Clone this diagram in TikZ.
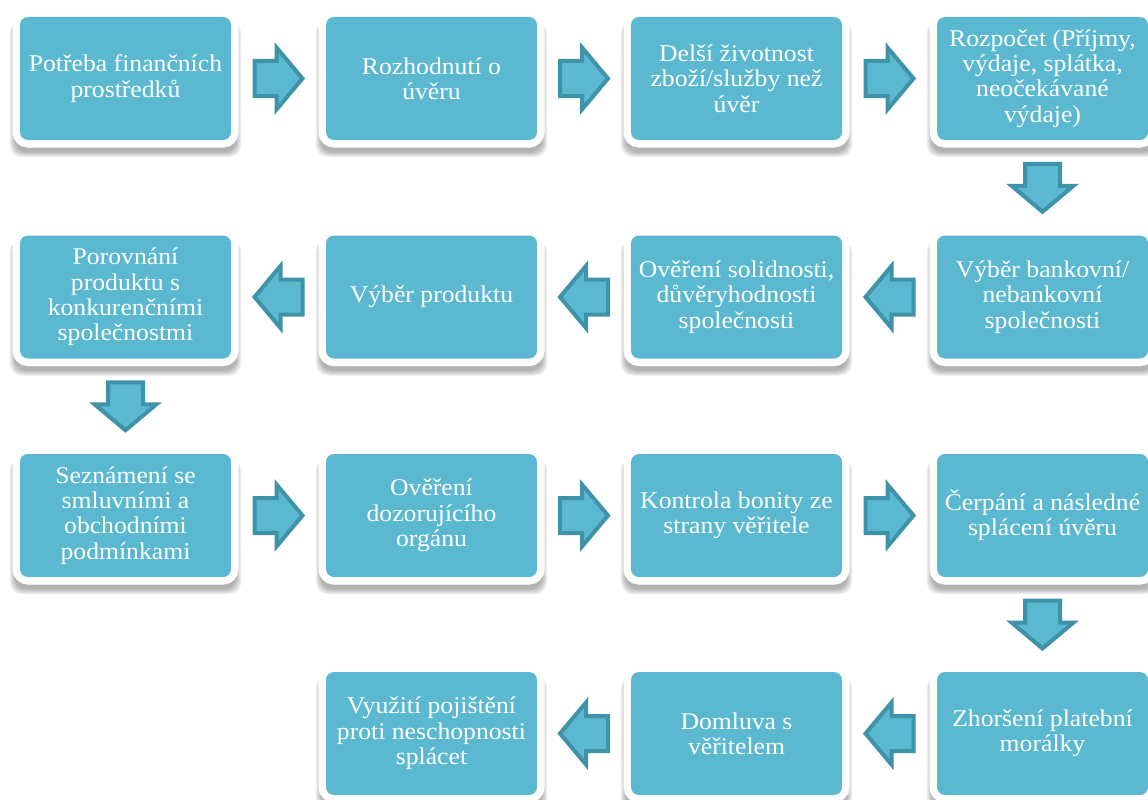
\documentclass[tikz,border=0pt]{standalone}
\usepackage{fontspec}
\setmainfont{Liberation Serif}[FakeStretch=1.07]
\usetikzlibrary{calc,backgrounds}
\newlength\px
\setlength\px{0.75pt}
\definecolor{boxblue}{HTML}{5AB8D1}
\definecolor{arrowedge}{HTML}{3F93A8}
\tikzset{
  stepbox/.style={rectangle, rounded corners=8\px, minimum width=211\px,
    minimum height=123\px, inner sep=0pt, fill=boxblue, text=white,
    align=center, font=\fontsize{18pt}{19pt}\selectfont,
    preaction={draw=white, line width=15\px}},
  pics/flowarrow/.style={code={
    \draw[arrowedge, fill=boxblue, line width=4\px, line join=miter]
      (-24,-17.5) -- (-2,-17.5) -- (-2,-31) -- (24,0) -- (-2,31)
      -- (-2,17.5) -- (-24,17.5) -- cycle;}},
  softshadow/.style={black, opacity=0.055, rounded corners=12\px}
}
\begin{document}
\begin{tikzpicture}[x=0.75pt, y=-0.75pt]
  \useasboundingbox (0,0) rectangle (1148,799);

  % row 1 (left to right)
  \node[stepbox] (b1)  at (125.5,78.5) {Potřeba finančních\\prostředků};
  \node[stepbox] (b2)  at (431.5,78.5) {Rozhodnutí o\\úvěru};
  \node[stepbox] (b3)  at (736.5,78.5) {Delší životnost\\zboží/služby než\\úvěr};
  \node[stepbox] (b4)  at (1042.5,78.5) {Rozpočet (Příjmy,\\výdaje, splátka,\\neočekávané\\výdaje)};
  % row 2 (right to left)
  \node[stepbox] (b5)  at (1042.5,297) {Výběr bankovní/\\nebankovní\\společnosti};
  \node[stepbox] (b6)  at (736.5,297) {Ověření solidnosti,\\důvěryhodnosti\\společnosti};
  \node[stepbox] (b7)  at (431.5,297) {Výběr produktu};
  \node[stepbox] (b8)  at (125.5,297) {Porovnání\\produktu s\\konkurenčními\\společnostmi};
  % row 3 (left to right)
  \node[stepbox] (b9)  at (125.5,515.5) {Seznámení se\\smluvními a\\obchodními\\podmínkami};
  \node[stepbox] (b10) at (431.5,515.5) {Ověření\\dozorujícího\\orgánu};
  \node[stepbox] (b11) at (736.5,515.5) {Kontrola bonity ze\\strany věřitele};
  \node[stepbox] (b12) at (1042.5,515.5) {Čerpání a následné\\splácení úvěru};
  % row 4 (right to left)
  \node[stepbox] (b13) at (1042.5,733.5) {Zhoršení platební\\morálky};
  \node[stepbox] (b14) at (736.5,733.5) {Domluva s\\věřitelem};
  \node[stepbox] (b15) at (431.5,733.5) {Využití pojištění\\proti neschopnosti\\splácet};

  % soft drop shadows behind the boxes
  \begin{scope}[on background layer]
    \fill[white] (0,0) rectangle (1148,799);
    \foreach \n in {b1,b2,b3,b4,b5,b6,b7,b8,b9,b10,b11,b12,b13,b14,b15}{
      \foreach \k in {0,...,5}{
        \fill[softshadow] ($(\n.north west)+({-5-\k},4)$)
          rectangle ($(\n.south east)+({5+\k},{12+\k})$);
      }
    }
  \end{scope}

  % block arrows between consecutive steps
  \pic at ($(b1.east)!0.5!(b2.west)$) {flowarrow};
  \pic at ($(b2.east)!0.5!(b3.west)$) {flowarrow};
  \pic at ($(b3.east)!0.5!(b4.west)$) {flowarrow};
  \pic[rotate=-90] at ($(b4.south)!0.5!(b5.north)$) {flowarrow};
  \pic[rotate=180] at ($(b5.west)!0.5!(b6.east)$) {flowarrow};
  \pic[rotate=180] at ($(b6.west)!0.5!(b7.east)$) {flowarrow};
  \pic[rotate=180] at ($(b7.west)!0.5!(b8.east)$) {flowarrow};
  \pic[rotate=-90] at ($(b8.south)!0.5!(b9.north)$) {flowarrow};
  \pic at ($(b9.east)!0.5!(b10.west)$) {flowarrow};
  \pic at ($(b10.east)!0.5!(b11.west)$) {flowarrow};
  \pic at ($(b11.east)!0.5!(b12.west)$) {flowarrow};
  \pic[rotate=-90] at ($(b12.south)!0.5!(b13.north)$) {flowarrow};
  \pic[rotate=180] at ($(b13.west)!0.5!(b14.east)$) {flowarrow};
  \pic[rotate=180] at ($(b14.west)!0.5!(b15.east)$) {flowarrow};
\end{tikzpicture}
\end{document}
